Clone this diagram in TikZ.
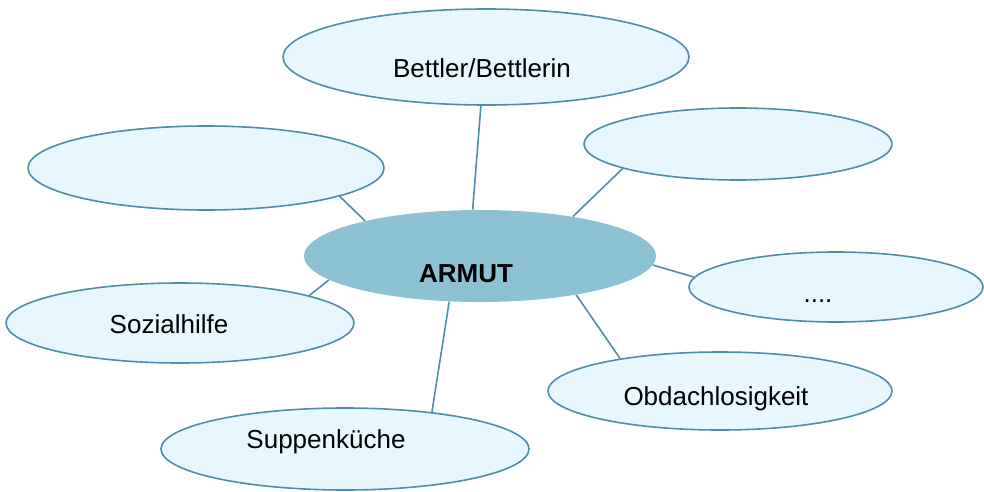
\documentclass[tikz,border=0pt]{standalone}
\usepackage{fontspec}
\setmainfont{Liberation Sans}
\usetikzlibrary{shapes.geometric,positioning}
\definecolor{rand}{RGB}{78,142,168}
\definecolor{hell}{RGB}{232,247,253}
\definecolor{mitte}{RGB}{141,194,213}
\tikzstyle{blase} = [ellipse, draw=rand, line width=0.8pt, fill=hell, inner sep=0pt]
\tikzstyle{kern} = [ellipse, fill=mitte, inner sep=0pt]
\tikzstyle{wort} = [anchor=base, inner sep=0pt, font=\fontsize{13pt}{15pt}\selectfont]
\tikzstyle{ast} = [draw=rand, line width=0.8pt]

\begin{document}
\begin{tikzpicture}[x=0.5pt, y=-0.5pt]
            \useasboundingbox (0,0) rectangle (984,492);
            \node[kern, minimum width=176pt, minimum height=46pt] (armut) at (480,256) {};
            \node[blase, minimum width=203pt, minimum height=48pt] (bettler) at (486,57) {};
            \node[blase, minimum width=154pt, minimum height=36pt] (leer2) at (738,144) {};
            \node[blase, minimum width=178pt, minimum height=42pt] (leer1) at (206,168) {};
            \node[blase, minimum width=147pt, minimum height=35pt] (punkte) at (836,287) {};
            \node[blase, minimum width=174pt, minimum height=40pt] (sozial) at (180,323) {};
            \node[blase, minimum width=172pt, minimum height=39pt] (obdach) at (720,391) {};
            \node[blase, minimum width=184pt, minimum height=41pt] (suppe) at (345,449) {};
            \node[wort, font=\fontsize{13pt}{15pt}\bfseries] (armut-t) at (466,282) {ARMUT};
            \node[wort] (bettler-t) at (482,78) {Bettler/Bettlerin};
            \node[wort] (punkte-t) at (818,302) {....};
            \node[wort] (sozial-t) at (169,333) {Sozialhilfe};
            \node[wort] (obdach-t) at (716,405) {Obdachlosigkeit};
            \node[wort] (suppe-t) at (326,448) {Suppenküche};
            \draw[ast] (armut.99) -- (bettler.264);
            \draw[ast] (armut.23) -- (leer2.192);
            \draw[ast] (armut.163) -- (leer1.348);
            \draw[ast] (armut.357) -- (punkte.176);
            \draw[ast] (armut.189) -- (sozial.12);
            \draw[ast] (armut.338) -- (obdach.162);
            \draw[ast] (armut.236) -- (suppe.23);
\end{tikzpicture}
\end{document}
